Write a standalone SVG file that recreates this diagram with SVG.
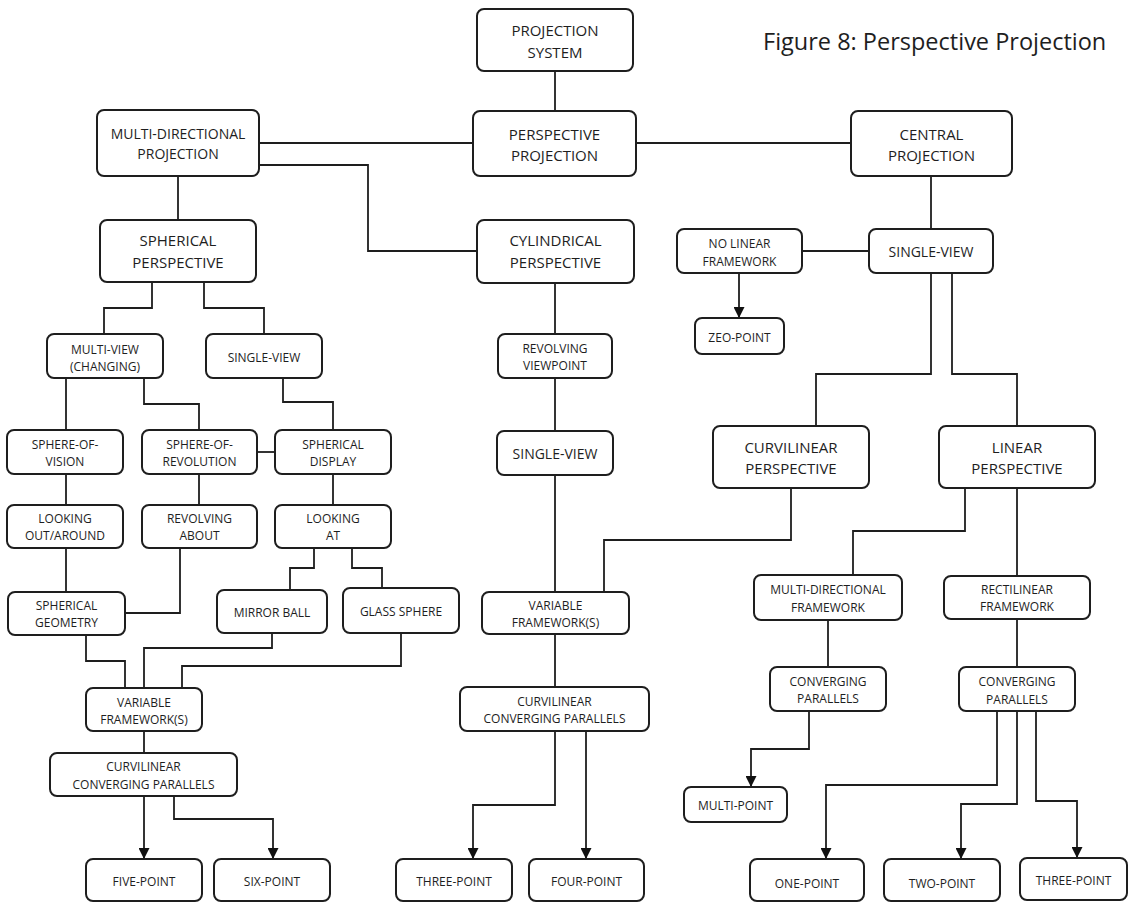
<svg xmlns="http://www.w3.org/2000/svg" width="1130" height="903" viewBox="0 0 1130 903">
<defs>
<style>
.b{fill:#fff;stroke:#1e1e1e;stroke-width:2}
.t{font-family:"Open Sans","Liberation Sans",sans-serif;fill:#1e1e1e;text-anchor:middle}
.s{font-size:12px}
.m{font-size:14px}
.l{font-size:15px}
.c{fill:none;stroke:#1e1e1e;stroke-width:1.8}
.a{marker-end:url(#arr)}
</style>
<marker id="arr" viewBox="0 0 10 10" refX="10" refY="5" markerWidth="13" markerHeight="11" markerUnits="userSpaceOnUse" orient="auto">
<path d="M0,0 L10,5 L0,10 z" fill="#111"/>
</marker>
</defs>
<rect width="1130" height="903" fill="#fff"/>
<text x="763" y="50" style="font-family:'Open Sans','Liberation Sans',sans-serif;font-size:23.5px;fill:#1e1e1e">Figure 8: Perspective Projection</text>

<g id="connectors">
<path class="c" d="M555,71V111"/>
<path class="c" d="M259,143H473"/>
<path class="c" d="M636,143H851"/>
<path class="c" d="M259,165H368V251H477"/>
<path class="c" d="M178,176V220"/>
<path class="c" d="M931,176V229"/>
<path class="c" d="M802,251H869"/>
<path class="c a" d="M739,273V318"/>
<path class="c" d="M931,273V374H816V426"/>
<path class="c" d="M952,273V374H1017V426"/>
<path class="c" d="M152,282V308H104V334"/>
<path class="c" d="M204,282V308H264V334"/>
<path class="c" d="M555,283V334"/>
<path class="c" d="M66,378V430"/>
<path class="c" d="M144,378V404H199V430"/>
<path class="c" d="M283,378V402H333V430"/>
<path class="c" d="M555,378V431"/>
<path class="c" d="M257,452H275"/>
<path class="c" d="M66,474V505"/>
<path class="c" d="M199,474V505"/>
<path class="c" d="M333,474V505"/>
<path class="c" d="M555,475V592"/>
<path class="c" d="M791,488V540H604V592"/>
<path class="c" d="M965,488V531H853V575"/>
<path class="c" d="M1017,488V576"/>
<path class="c" d="M66,548V592"/>
<path class="c" d="M180,548V613H125"/>
<path class="c" d="M314,548V568H290V590"/>
<path class="c" d="M352,548V568H382V588"/>
<path class="c" d="M86,635V661H125V688"/>
<path class="c" d="M272,633V648H144V688"/>
<path class="c" d="M401,633V666H182V688"/>
<path class="c" d="M144,731V753"/>
<path class="c" d="M555,634V687"/>
<path class="c" d="M828,620V667"/>
<path class="c" d="M1017,619V667"/>
<path class="c a" d="M144,796V859"/>
<path class="c a" d="M174,796V819H273V859"/>
<path class="c a" d="M555,731V805H473V859"/>
<path class="c a" d="M586,731V859"/>
<path class="c a" d="M809,711V749H751V787"/>
<path class="c a" d="M997,711V785H826V859"/>
<path class="c a" d="M1017,711V804H961V859"/>
<path class="c a" d="M1036,711V801H1077V858"/>
</g>

<g id="n_projsys"><rect class="b" x="477" y="9" width="156" height="62" rx="7"/><text class="t l" x="555" y="36.4">PROJECTION</text><text class="t l" x="555" y="58.4">SYSTEM</text></g>
<g id="n_persp"><rect class="b" x="473" y="111" width="163" height="65" rx="7"/><text class="t l" x="554.5" y="140.4">PERSPECTIVE</text><text class="t l" x="554.5" y="160.9">PROJECTION</text></g>
<g id="n_multidir"><rect class="b" x="97" y="110" width="162" height="66" rx="7"/><text class="t m" x="178" y="139">MULTI-DIRECTIONAL</text><text class="t m" x="178" y="159">PROJECTION</text></g>
<g id="n_central"><rect class="b" x="851" y="111" width="161" height="65" rx="7"/><text class="t l" x="931.5" y="140.4">CENTRAL</text><text class="t l" x="931.5" y="161.4">PROJECTION</text></g>
<g id="n_spherical"><rect class="b" x="100" y="220" width="156" height="62" rx="7"/><text class="t l" x="178" y="246.4">SPHERICAL</text><text class="t l" x="178" y="268.4">PERSPECTIVE</text></g>
<g id="n_cylindrical"><rect class="b" x="477" y="220" width="157" height="63" rx="7"/><text class="t l" x="555.5" y="246.4">CYLINDRICAL</text><text class="t l" x="555.5" y="268.4">PERSPECTIVE</text></g>
<g id="n_nolinear"><rect class="b" x="677" y="229" width="125" height="44" rx="7"/><text class="t s" x="739.5" y="248.3">NO LINEAR</text><text class="t s" x="739.5" y="266.3">FRAMEWORK</text></g>
<g id="n_sv_central"><rect class="b" x="869" y="229" width="124" height="44" rx="7"/><text class="t m" x="931" y="257">SINGLE-VIEW</text></g>
<g id="n_zeo"><rect class="b" x="695" y="318" width="89" height="36" rx="7"/><text class="t s" x="739.5" y="342.3">ZEO-POINT</text></g>
<g id="n_multiview"><rect class="b" x="47" y="334" width="116" height="44" rx="7"/><text class="t s" x="105" y="354.3">MULTI-VIEW</text><text class="t s" x="105" y="370.8">(CHANGING)</text></g>
<g id="n_sv_left"><rect class="b" x="206" y="334" width="116" height="44" rx="7"/><text class="t s" x="264" y="361.8">SINGLE-VIEW</text></g>
<g id="n_revview"><rect class="b" x="498" y="334" width="114" height="44" rx="7"/><text class="t s" x="555" y="353.3">REVOLVING</text><text class="t s" x="555" y="369.8">VIEWPOINT</text></g>
<g id="n_sov"><rect class="b" x="7" y="430" width="116" height="44" rx="7"/><text class="t s" x="65" y="449.3">SPHERE-OF-</text><text class="t s" x="65" y="466.3">VISION</text></g>
<g id="n_sor"><rect class="b" x="142" y="430" width="115" height="44" rx="7"/><text class="t s" x="199.5" y="449.3">SPHERE-OF-</text><text class="t s" x="199.5" y="466.3">REVOLUTION</text></g>
<g id="n_sdisp"><rect class="b" x="275" y="430" width="116" height="44" rx="7"/><text class="t s" x="333" y="449.3">SPHERICAL</text><text class="t s" x="333" y="466.3">DISPLAY</text></g>
<g id="n_sv_mid"><rect class="b" x="497" y="431" width="116" height="44" rx="7"/><text class="t m" x="555" y="459">SINGLE-VIEW</text></g>
<g id="n_curv"><rect class="b" x="713" y="426" width="156" height="62" rx="7"/><text class="t l" x="791" y="453.4">CURVILINEAR</text><text class="t l" x="791" y="474.4">PERSPECTIVE</text></g>
<g id="n_linear"><rect class="b" x="939" y="426" width="156" height="62" rx="7"/><text class="t l" x="1017" y="453.4">LINEAR</text><text class="t l" x="1017" y="474.4">PERSPECTIVE</text></g>
<g id="n_loa"><rect class="b" x="7" y="505" width="116" height="43" rx="7"/><text class="t s" x="65" y="523.3">LOOKING</text><text class="t s" x="65" y="540.3">OUT/AROUND</text></g>
<g id="n_ra"><rect class="b" x="142" y="505" width="115" height="43" rx="7"/><text class="t s" x="199.5" y="523.3">REVOLVING</text><text class="t s" x="199.5" y="540.3">ABOUT</text></g>
<g id="n_la"><rect class="b" x="275" y="505" width="116" height="43" rx="7"/><text class="t s" x="333" y="523.3">LOOKING</text><text class="t s" x="333" y="540.3">AT</text></g>
<g id="n_sgeo"><rect class="b" x="8" y="592" width="117" height="43" rx="7"/><text class="t s" x="66.5" y="610.3">SPHERICAL</text><text class="t s" x="66.5" y="627.3">GEOMETRY</text></g>
<g id="n_mirror"><rect class="b" x="217" y="590" width="110" height="43" rx="7"/><text class="t s" x="272" y="617.3">MIRROR BALL</text></g>
<g id="n_glass"><rect class="b" x="343" y="588" width="116" height="45" rx="7"/><text class="t s" x="401" y="616.3">GLASS SPHERE</text></g>
<g id="n_vf_mid"><rect class="b" x="482" y="592" width="147" height="42" rx="7"/><text class="t s" x="555.5" y="610.3">VARIABLE</text><text class="t s" x="555.5" y="627.3">FRAMEWORK(S)</text></g>
<g id="n_mdf"><rect class="b" x="754" y="575" width="148" height="45" rx="7"/><text class="t s" x="828" y="594.3">MULTI-DIRECTIONAL</text><text class="t s" x="828" y="612.3">FRAMEWORK</text></g>
<g id="n_rf"><rect class="b" x="944" y="576" width="146" height="43" rx="7"/><text class="t s" x="1017" y="594.3">RECTILINEAR</text><text class="t s" x="1017" y="611.3">FRAMEWORK</text></g>
<g id="n_cp_md"><rect class="b" x="770" y="667" width="116" height="44" rx="7"/><text class="t s" x="828" y="686.3">CONVERGING</text><text class="t s" x="828" y="703.3">PARALLELS</text></g>
<g id="n_cp_rl"><rect class="b" x="959" y="667" width="116" height="44" rx="7"/><text class="t s" x="1017" y="686.3">CONVERGING</text><text class="t s" x="1017" y="704.3">PARALLELS</text></g>
<g id="n_vf_left"><rect class="b" x="86" y="688" width="116" height="43" rx="7"/><text class="t s" x="144" y="707.3">VARIABLE</text><text class="t s" x="144" y="724.3">FRAMEWORK(S)</text></g>
<g id="n_ccp_mid"><rect class="b" x="460" y="687" width="189" height="44" rx="7"/><text class="t s" x="554.5" y="706.3">CURVILINEAR</text><text class="t s" x="554.5" y="723.3">CONVERGING PARALLELS</text></g>
<g id="n_ccp_left"><rect class="b" x="50" y="753" width="187" height="43" rx="7"/><text class="t s" x="143.5" y="771.3">CURVILINEAR</text><text class="t s" x="143.5" y="789.3">CONVERGING PARALLELS</text></g>
<g id="n_multipoint"><rect class="b" x="684" y="787" width="103" height="35" rx="7"/><text class="t s" x="735.5" y="810.3">MULTI-POINT</text></g>
<g id="n_five"><rect class="b" x="86" y="859" width="116" height="42" rx="7"/><text class="t s" x="144" y="886.3">FIVE-POINT</text></g>
<g id="n_six"><rect class="b" x="214" y="859" width="116" height="42" rx="7"/><text class="t s" x="272" y="886.3">SIX-POINT</text></g>
<g id="n_three_mid"><rect class="b" x="396" y="859" width="116" height="42" rx="7"/><text class="t s" x="454" y="886.3">THREE-POINT</text></g>
<g id="n_four"><rect class="b" x="529" y="859" width="115" height="42" rx="7"/><text class="t s" x="586.5" y="886.3">FOUR-POINT</text></g>
<g id="n_one"><rect class="b" x="750" y="859" width="114" height="42" rx="7"/><text class="t s" x="807" y="888.3">ONE-POINT</text></g>
<g id="n_two"><rect class="b" x="884" y="859" width="116" height="42" rx="7"/><text class="t s" x="942" y="888.3">TWO-POINT</text></g>
<g id="n_three_right"><rect class="b" x="1020" y="858" width="107" height="42" rx="7"/><text class="t s" x="1073.5" y="885.3">THREE-POINT</text></g>
</svg>
